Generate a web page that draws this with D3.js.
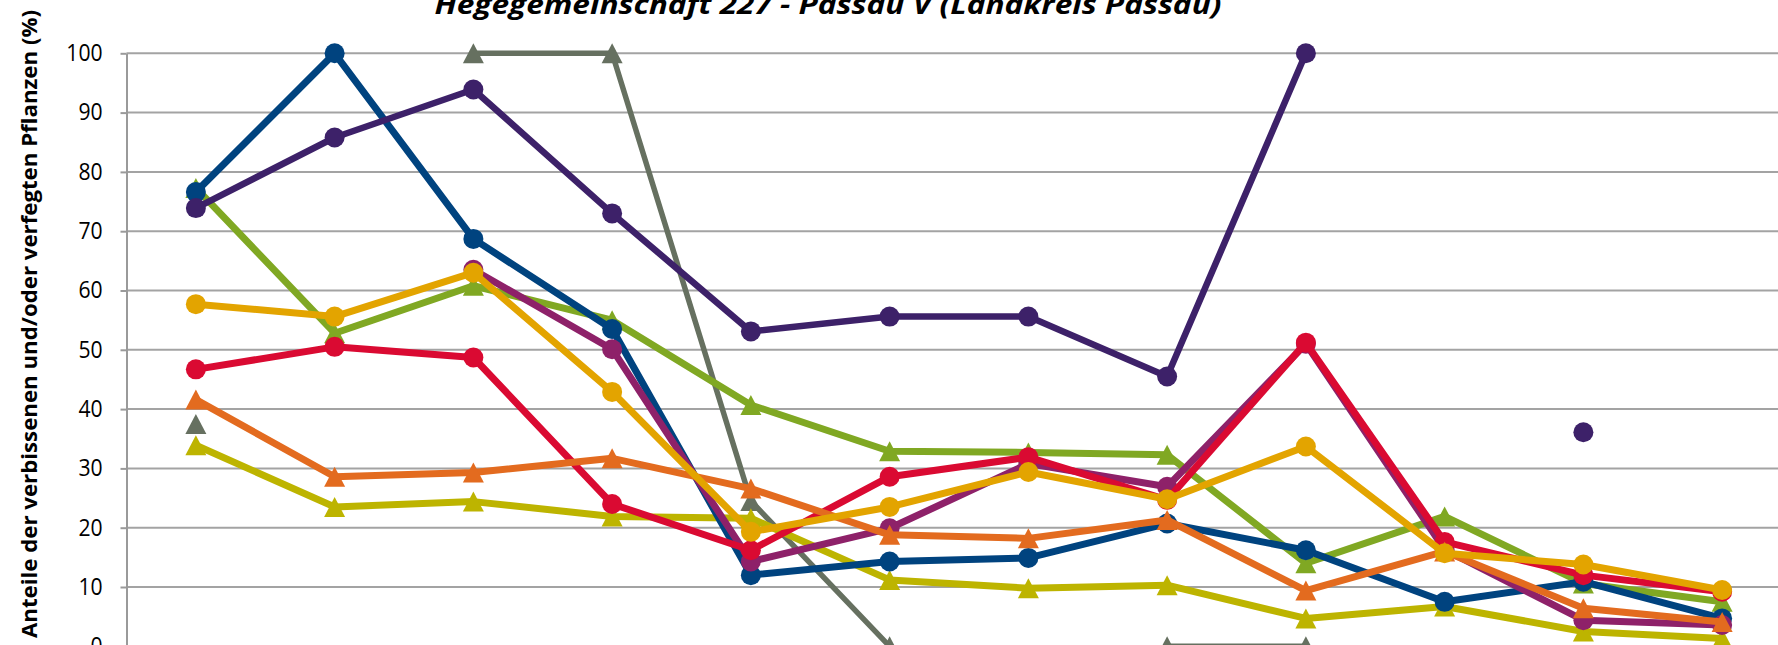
<!DOCTYPE html>
<html>
<head>
<meta charset="utf-8">
<script src="https://cdn.jsdelivr.net/npm/d3@7"></script>
<style>
	body { margin: 0; background: #fff; overflow: hidden; }
	svg { display: block; }
</style>
</head>
<body>
<svg id="chart" width="1778" height="645"></svg>
<script>
/*=================================
	DATA
**===============================*/

//Survey years (axis labels sit below the visible crop)
var categories = ["1991", "1994", "1997", "2000", "2003", "2006", "2009", "2012", "2015", "2018", "2021", "2024"];
var yTicks = [0, 10, 20, 30, 40, 50, 60, 70, 80, 90, 100];

var titleText = "Hegegemeinschaft 227 - Passau V (Landkreis Passau)";
var yTitleText = "Anteile der verbissenen und/oder verfegten Pflanzen (%)";

//Series values (%), null = no value
var graugruen  = [37.5, null, 100, 100, 24.5, 0, null, 0, 0, null, null, null];
var gruen      = [77.3, 52.8, 60.8, 55.0, 40.7, 32.9, 32.7, 32.3, 14.0, 21.9, 10.6, 7.5];
var olivgelb   = [33.9, 23.5, 24.4, 21.9, 21.6, 11.2, 9.8, 10.3, 4.7, 6.7, 2.5, 1.3];
var blau       = [76.6, 100, 68.7, 53.5, 12.0, 14.3, 14.9, 20.7, 16.2, 7.5, 10.9, 4.7];
var violett    = [73.9, 85.8, 93.9, 73.0, 53.1, 55.6, 55.6, 45.5, 100, null, 36.1, null];
var magenta    = [null, null, 63.5, 50.1, 14.3, 19.9, 30.8, 26.9, 51.0, 16.3, 4.4, 3.6];
var rot        = [46.7, 50.5, 48.7, 24.0, 16.2, 28.6, 31.9, 24.7, 51.2, 17.6, 12.0, 9.2];
var orange     = [41.6, 28.6, 29.3, 31.7, 26.6, 18.8, 18.2, 21.3, 9.4, 16.0, 6.4, 4.1];
var gelb       = [57.7, 55.6, 63.0, 42.9, 19.3, 23.5, 29.4, 24.8, 33.7, 15.7, 13.8, 9.5];

//Drawing order = Excel series order (later on top)
var series = [
	{ values: graugruen, color: "#667060", shape: "triangle", width: 5.5 },
	{ values: gruen,     color: "#80a823", shape: "triangle", width: 7 },
	{ values: olivgelb,  color: "#bdb400", shape: "triangle", width: 7 },
	{ values: blau,      color: "#00437f", shape: "circle",   width: 7 },
	{ values: violett,   color: "#3d2169", shape: "circle",   width: 6.5 },
	{ values: magenta,   color: "#8e2169", shape: "circle",   width: 7 },
	{ values: rot,       color: "#da0a32", shape: "circle",   width: 7 },
	{ values: orange,    color: "#e36b1f", shape: "triangle", width: 7 },
	{ values: gelb,      color: "#e3a400", shape: "circle",   width: 7 }
];

/*=================================
	LAYOUT
**===============================*/

var plotLeft = 126.5,
	bandW = 138.75,
	plotTop = 53.3,
	plotBottom = 646.3;

var svg = d3.select("#chart");

var x = d3.scaleBand()
	.domain(categories)
	.range([plotLeft, plotLeft + bandW * categories.length])
	.padding(0);

var y = d3.scaleLinear()
	.domain([0, 100])
	.range([plotBottom, plotTop]);

function cx(i) { return x(categories[i]) + x.bandwidth() / 2; }

/*=================================
	GRID + AXIS
**===============================*/

svg.append("g")
	.selectAll("line")
	.data(yTicks)
	.join("line")
	.attr("x1", plotLeft)
	.attr("x2", x.range()[1])
	.attr("y1", function(d) { return y(d); })
	.attr("y2", function(d) { return y(d); })
	.attr("stroke", "#a3a3a3")
	.attr("stroke-width", 2);

var yAxis = svg.append("g")
	.attr("transform", "translate(" + plotLeft + ",0)")
	.call(d3.axisLeft(y).tickValues(yTicks).tickSize(6).tickPadding(20).tickSizeOuter(0));

yAxis.select(".domain").attr("stroke", "#9a9a9a").attr("stroke-width", 2);
yAxis.selectAll(".tick line").attr("stroke", "#9a9a9a").attr("stroke-width", 2);
yAxis.selectAll(".tick text")
	.attr("fill", "#000")
	.attr("transform", "scale(0.92,1)")
	.style("font-family", "'Open Sans', sans-serif")
	.style("font-size", "23px");

/*=================================
	TITLES
**===============================*/

svg.append("text")
	.attr("x", 828)
	.attr("y", 14)
	.attr("text-anchor", "middle")
	.attr("textLength", 787)
	.attr("lengthAdjust", "spacingAndGlyphs")
	.style("font-family", "'Open Sans', sans-serif")
	.style("font-weight", "bold")
	.style("font-style", "italic")
	.style("font-size", "27px")
	.text(titleText);

svg.append("text")
	.attr("transform", "translate(37,324) rotate(-90)")
	.attr("text-anchor", "middle")
	.attr("textLength", 628)
	.attr("lengthAdjust", "spacingAndGlyphs")
	.style("font-family", "'Open Sans', sans-serif")
	.style("font-weight", "bold")
	.style("font-size", "22px")
	.text(yTitleText);

/*=================================
	SERIES
**===============================*/

var line = d3.line()
	.defined(function(d) { return d != null; })
	.x(function(d, i) { return cx(i); })
	.y(function(d) { return y(d); });

var mR = 10;
var triPath = "M0," + (-mR) + "L" + (mR + 0.5) + "," + mR + "L" + (-mR - 0.5) + "," + mR + "Z";

series.forEach(function(s) {
	var g = svg.append("g");

	g.append("path")
		.datum(s.values)
		.attr("d", line)
		.attr("fill", "none")
		.attr("stroke", s.color)
		.attr("stroke-width", s.width)
		.attr("stroke-linejoin", "round");

	var pts = s.values
		.map(function(v, i) { return { v: v, i: i }; })
		.filter(function(p) { return p.v != null; });

	if (s.shape == "circle") {
		g.selectAll("circle")
			.data(pts)
			.join("circle")
			.attr("cx", function(p) { return cx(p.i); })
			.attr("cy", function(p) { return y(p.v); })
			.attr("r", mR)
			.attr("fill", s.color);
	} else {
		g.selectAll(".tri")
			.data(pts)
			.join("path")
			.attr("class", "tri")
			.attr("d", triPath)
			.attr("transform", function(p) { return "translate(" + cx(p.i) + "," + y(p.v) + ")"; })
			.attr("fill", s.color);
	}
});
</script>
</body>
</html>
